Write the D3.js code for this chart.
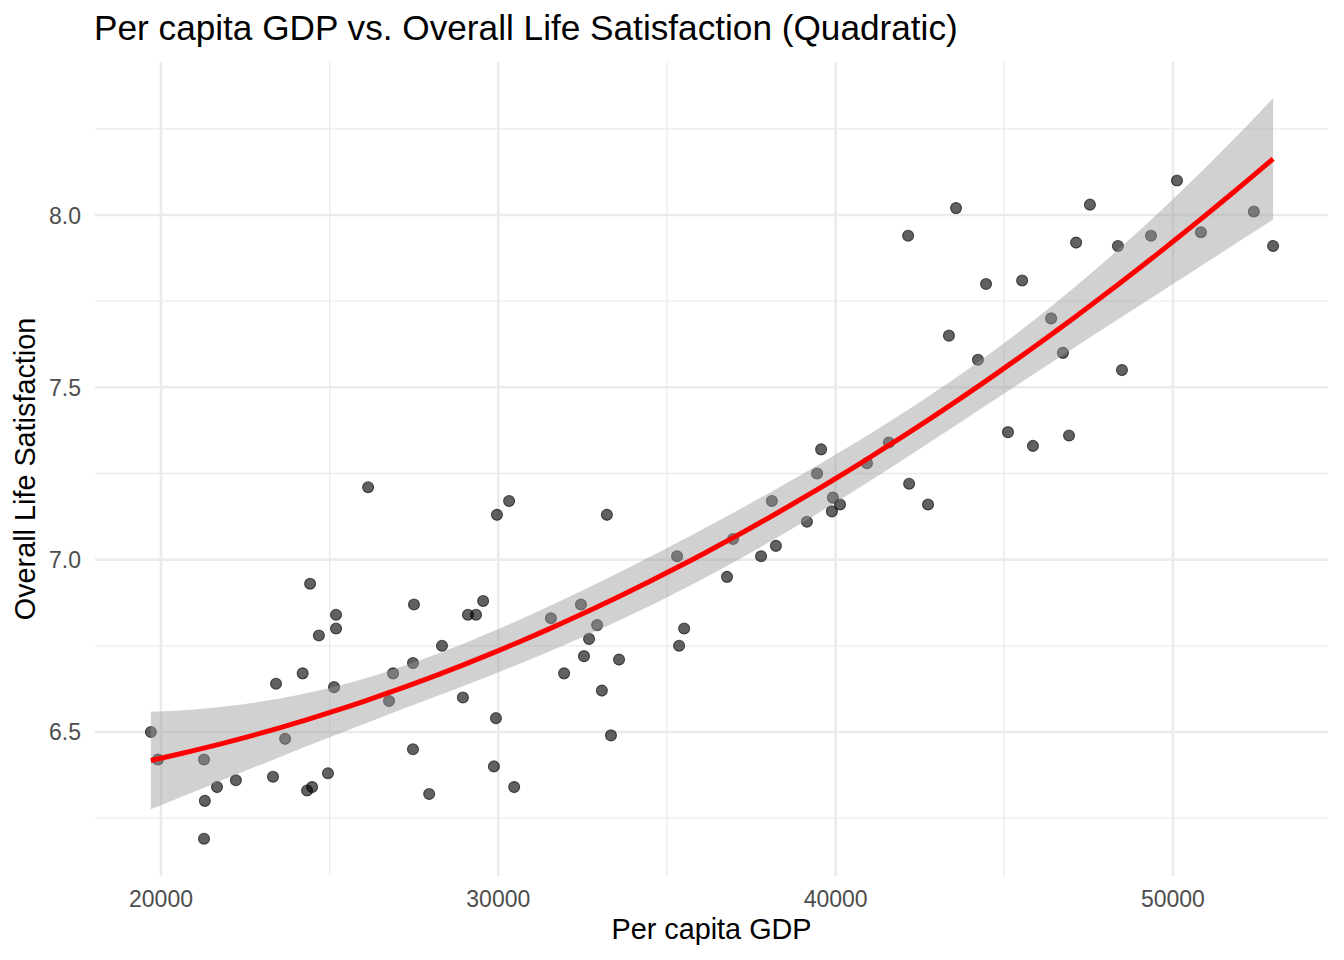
<!DOCTYPE html>
<html>
<head>
<meta charset="utf-8">
<script src="https://cdn.jsdelivr.net/npm/d3@7"></script>
<style>
  body { margin: 0; background: #fff; }
  svg { display: block; font-family: "Liberation Sans", Arial, Helvetica, sans-serif; }
</style>
</head>
<body>
<svg id="chart" width="1344" height="960"></svg>
<script>
// per capita GDP for each country
var gdp = [
    19700, 19910, 21275, 21300, 21275, 21660, 22220, 23320, 23410, 23680,
    24200, 24330, 24480, 24420, 24680, 24950, 25130, 25190, 25190, 26140,
    26760, 26880, 27470, 27470, 27500, 27950, 28330, 28950, 29100, 29340,
    29550, 29870, 29930, 29960, 30320, 30470, 31560, 31950, 32450, 32540,
    32690, 32930, 33070, 33220, 33340, 33580, 35300, 35360, 35510, 36780,
    36960, 37790, 38110, 38230, 39150, 39450, 39570, 39920, 39890, 40130,
    40930, 41580, 42150, 42180, 42740, 43360, 43570, 44220, 44460, 45110,
    45530, 45850, 46390, 46740, 46920, 47130, 47540, 48370, 48490, 49350,
    50120, 50830, 52400, 52970
];
// overall life satisfaction, same order
var satisfaction = [
    6.50, 6.42, 6.42, 6.30, 6.19, 6.34, 6.36, 6.37, 6.64, 6.48,
    6.67, 6.33, 6.34, 6.93, 6.78, 6.38, 6.63, 6.80, 6.84, 7.21,
    6.59, 6.67, 6.45, 6.70, 6.87, 6.32, 6.75, 6.60, 6.84, 6.84,
    6.88, 6.40, 6.54, 7.13, 7.17, 6.34, 6.83, 6.67, 6.87, 6.72,
    6.77, 6.81, 6.62, 7.13, 6.49, 6.71, 7.01, 6.75, 6.80, 6.95,
    7.06, 7.01, 7.17, 7.04, 7.11, 7.25, 7.32, 7.18, 7.14, 7.16,
    7.28, 7.34, 7.94, 7.22, 7.16, 7.65, 8.02, 7.58, 7.80, 7.37,
    7.81, 7.33, 7.70, 7.60, 7.36, 7.92, 8.03, 7.91, 7.55, 7.94,
    8.10, 7.95, 8.01, 7.91
];
var xTicks = [20000, 30000, 40000, 50000];
var xMinor = [25000, 35000, 45000];
var yTicks = [6.5, 7.0, 7.5, 8.0];
var yMinor = [6.25, 6.75, 7.25, 7.75, 8.25];

var svg = d3.select('#chart');
var panel = { left: 95, right: 1328, top: 62, bottom: 876 };

var x = d3.scaleLinear().domain([18043, 54598]).range([panel.left, panel.right]);
var y = d3.scaleLinear().domain([6.082, 8.444]).range([panel.bottom, panel.top]);

// quadratic least squares fit (y ~ poly(x, 2)) with 95% confidence band
function quadFit(xs, ys) {
    var n = xs.length;
    var mx = d3.mean(xs), sx = d3.deviation(xs);
    function row(v) { var u = (v - mx) / sx; return [1, u, u * u]; }
    var A = [[0, 0, 0], [0, 0, 0], [0, 0, 0]], b = [0, 0, 0];
    xs.forEach(function (v, i) {
        var r = row(v);
        for (var j = 0; j < 3; j++) {
            b[j] += r[j] * ys[i];
            for (var k = 0; k < 3; k++) A[j][k] += r[j] * r[k];
        }
    });
    var inv = invert3(A);
    var beta = [0, 1, 2].map(function (j) {
        return inv[j][0] * b[0] + inv[j][1] * b[1] + inv[j][2] * b[2];
    });
    function predict(v) { var r = row(v); return beta[0] * r[0] + beta[1] * r[1] + beta[2] * r[2]; }
    var ssr = d3.sum(xs, function (v, i) { var e = ys[i] - predict(v); return e * e; });
    var s2 = ssr / (n - 3);
    var tq = 1.98969; // qt(0.975, 81)
    return function (v) {
        var r = row(v), q = 0;
        for (var j = 0; j < 3; j++)
            for (var k = 0; k < 3; k++) q += r[j] * inv[j][k] * r[k];
        var fit = predict(v), se = Math.sqrt(s2 * q);
        return { x: v, fit: fit, lo: fit - tq * se, hi: fit + tq * se };
    };
}

function invert3(m) {
    var a = m[0][0], b = m[0][1], c = m[0][2],
        d = m[1][0], e = m[1][1], f = m[1][2],
        g = m[2][0], h = m[2][1], k = m[2][2];
    var det = a * (e * k - f * h) - b * (d * k - f * g) + c * (d * h - e * g);
    return [
        [(e * k - f * h) / det, (c * h - b * k) / det, (b * f - c * e) / det],
        [(f * g - d * k) / det, (a * k - c * g) / det, (c * d - a * f) / det],
        [(d * h - e * g) / det, (b * g - a * h) / det, (a * e - b * d) / det]
    ];
}

var model = quadFit(gdp, satisfaction);
var gx = d3.extent(gdp);
var smooth = d3.range(80).map(function (i) {
    return model(gx[0] + (gx[1] - gx[0]) * i / 79);
});

// grid lines
var grid = svg.append('g');
grid.selectAll('.xminor').data(xMinor).enter().append('line')
    .attr('x1', x).attr('x2', x)
    .attr('y1', panel.top).attr('y2', panel.bottom)
    .style('stroke', '#ebebeb').style('stroke-width', 1.3);
grid.selectAll('.yminor').data(yMinor).enter().append('line')
    .attr('y1', y).attr('y2', y)
    .attr('x1', panel.left).attr('x2', panel.right)
    .style('stroke', '#ebebeb').style('stroke-width', 1.3);
grid.selectAll('.xmajor').data(xTicks).enter().append('line')
    .attr('x1', x).attr('x2', x)
    .attr('y1', panel.top).attr('y2', panel.bottom)
    .style('stroke', '#ebebeb').style('stroke-width', 2.6);
grid.selectAll('.ymajor').data(yTicks).enter().append('line')
    .attr('y1', y).attr('y2', y)
    .attr('x1', panel.left).attr('x2', panel.right)
    .style('stroke', '#ebebeb').style('stroke-width', 2.6);

// points
svg.append('g').selectAll('circle')
    .data(gdp)
    .enter().append('circle')
    .attr('cx', function (d) { return x(d); })
    .attr('cy', function (d, i) { return y(satisfaction[i]); })
    .attr('r', 5.5)
    .style('fill', '#000').style('fill-opacity', 0.62)
    .style('stroke', '#000').style('stroke-opacity', 0.62).style('stroke-width', 1.1);

// confidence band, drawn over the points like ggplot does
svg.append('path')
    .datum(smooth)
    .attr('d', d3.area()
        .x(function (d) { return x(d.x); })
        .y0(function (d) { return y(d.lo); })
        .y1(function (d) { return y(d.hi); }))
    .style('fill', '#999999').style('fill-opacity', 0.45);

svg.append('path')
    .datum(smooth)
    .attr('d', d3.line()
        .x(function (d) { return x(d.x); })
        .y(function (d) { return y(d.fit); }))
    .style('fill', 'none').style('stroke', '#ff0000').style('stroke-width', 5);

// axes (text only, theme_minimal)
svg.append('g').selectAll('text')
    .data(xTicks).enter().append('text')
    .attr('x', x).attr('y', 907)
    .attr('text-anchor', 'middle')
    .style('font-size', '23px').style('fill', '#4d4d4d')
    .text(function (d) { return d3.format('d')(d); });

svg.append('g').selectAll('text')
    .data(yTicks).enter().append('text')
    .attr('x', 81).attr('y', function (d) { return y(d) + 8.5; })
    .attr('text-anchor', 'end')
    .style('font-size', '23px').style('fill', '#4d4d4d')
    .text(function (d) { return d3.format('.1f')(d); });

svg.append('text')
    .attr('x', (panel.left + panel.right) / 2).attr('y', 939)
    .attr('text-anchor', 'middle')
    .style('font-size', '28.8px').style('fill', '#000')
    .text('Per capita GDP');

svg.append('text')
    .attr('transform', 'translate(35,' + (panel.top + panel.bottom) / 2 + ') rotate(-90)')
    .attr('text-anchor', 'middle')
    .style('font-size', '28.8px').style('fill', '#000')
    .text('Overall Life Satisfaction');

svg.append('text')
    .attr('x', 94).attr('y', 40)
    .style('font-size', '35.2px').style('fill', '#000')
    .text('Per capita GDP vs. Overall Life Satisfaction (Quadratic)');
</script>
</body>
</html>
